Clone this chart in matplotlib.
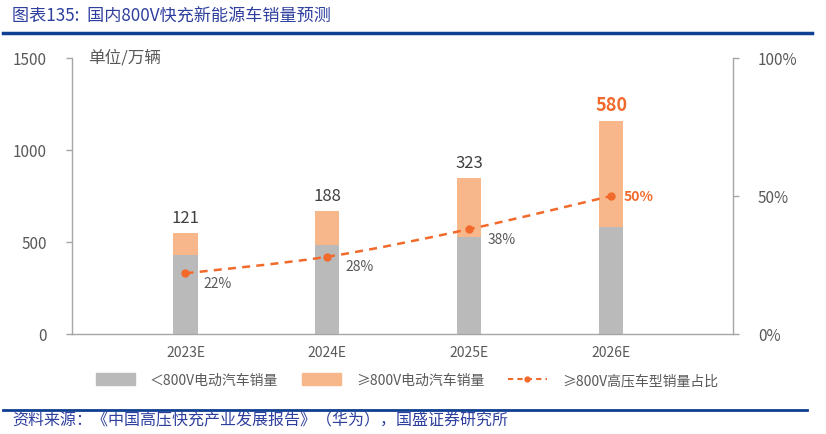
import matplotlib
matplotlib.use("Agg")
import matplotlib.pyplot as plt
from matplotlib.path import Path
from matplotlib.patches import PathPatch, Patch
from matplotlib.lines import Line2D
import numpy as np

plt.rcParams['font.family'] = ['Noto Sans CJK SC', 'DejaVu Sans']

categories = ["2023E", "2024E", "2025E", "2026E"]
below_800v = [429, 483, 527, 580]
above_800v = [121, 188, 323, 580]
share_800v = [22, 28, 38, 50]
share_labels = ["22%", "28%", "38%", "50%"]
left_ticks = [0, 500, 1000, 1500]
right_ticks = [0, 50, 100]

GRAY = "#BBBABA"
ORANGE = "#F8B78A"
LINE = "#F26A2B"
TXT = "#595959"
BLUE = "#0E3F91"

fig = plt.figure(figsize=(8.26, 4.35), dpi=100)
ax = fig.add_axes([72/826, 1-335/435, (733-72)/826, (335-59)/435])
ax2 = ax.twinx()

x = np.arange(len(categories))
w = 0.17
ax.bar(x, below_800v, w, color=GRAY, zorder=2)
ax.bar(x, above_800v, w, bottom=below_800v, color=ORANGE, zorder=2)

for i, (b, a) in enumerate(zip(below_800v, above_800v)):
    last = i == len(categories) - 1
    ax.annotate(str(a), (x[i], b + a), xytext=(0, 5), textcoords="offset points",
                ha="center", va="bottom", fontsize=12 if not last else 13,
                color=LINE if last else "#404040",
                fontweight="bold" if last else "normal")

ax.set_xlim(-0.80, 3.86)
ax.set_ylim(0, 1500)
ax.set_yticks(left_ticks)
ax.set_xticks(x)
ax.set_xticklabels(categories)
ax2.set_ylim(0, 100)
ax2.set_yticks(right_ticks)
ax2.set_yticklabels([f"{v}%" for v in right_ticks])

for a_ in (ax, ax2):
    for s in a_.spines.values():
        s.set_color("#A6A6A6")
        s.set_linewidth(1)
    a_.spines["top"].set_visible(False)
    a_.tick_params(colors="#A6A6A6", labelcolor=TXT, labelsize=11, length=4, width=1)
ax.spines["right"].set_visible(False)
ax2.spines["left"].set_visible(False)
ax2.spines["bottom"].set_visible(False)
ax.tick_params(axis="x", length=0, pad=8, labelsize=10)
ax.tick_params(axis="y", pad=14)
ax2.tick_params(axis="y", pad=14)

# smoothed dashed line (Catmull-Rom -> Bezier) in data coords
px = np.array(x, dtype=float)
py = np.array(share_800v, dtype=float)
verts = [(px[0], py[0])]
codes = [Path.MOVETO]
n = len(px)
for i in range(n - 1):
    p0 = (px[max(i-1, 0)], py[max(i-1, 0)])
    p1 = (px[i], py[i])
    p2 = (px[i+1], py[i+1])
    p3 = (px[min(i+2, n-1)], py[min(i+2, n-1)])
    t = 1/6
    c1 = (p1[0] + (p2[0]-p0[0])*t, p1[1] + (p2[1]-p0[1])*t)
    c2 = (p2[0] - (p3[0]-p1[0])*t, p2[1] - (p3[1]-p1[1])*t)
    verts += [c1, c2, p2]
    codes += [Path.CURVE4]*3
ax2.add_patch(PathPatch(Path(verts, codes), fill=False, edgecolor=LINE, lw=1.8,
                        linestyle=(0, (3.2, 2.5)), zorder=3))
ax2.plot(px, py, "o", color=LINE, ms=5, zorder=4)

for i, lab in enumerate(share_labels):
    last = i == n - 1
    if last:
        ax2.annotate(lab, (px[i], py[i]), xytext=(9, 0), textcoords="offset points",
                     ha="left", va="center", fontsize=10, color=LINE, fontweight="bold")
    else:
        ax2.annotate(lab, (px[i], py[i]), xytext=(13, -7), textcoords="offset points",
                     ha="left", va="center", fontsize=10, color=TXT)

fig.text(88/826, 1-58/435, "单位/万辆", fontsize=12, color=TXT, va="center")

handles = [Patch(color=GRAY), Patch(color=ORANGE),
           Line2D([0], [0], color=LINE, lw=1.5, ls=(0, (2.5, 2)), marker="o", ms=3.5)]
labels = ["＜800V电动汽车销量", "≥800V电动汽车销量", "≥800V高压车型销量占比"]
fig.legend(handles, labels, loc="center", bbox_to_anchor=(407/826, 1-381/435), ncol=3,
           frameon=False, fontsize=10, handlelength=2.8, handleheight=0.9,
           columnspacing=1.7, handletextpad=1.1, labelcolor=TXT)

fig.text(12/826, 1-17/435, "图表135:  国内800V快充新能源车销量预测", fontsize=12.3,
         color="#2E3F9E", va="center", style="italic")
fig.add_artist(Line2D([3/826, 812/826], [1-34/435]*2, color=BLUE, lw=2.5))
fig.add_artist(Line2D([3/826, 807/826], [1-411/435]*2, color=BLUE, lw=2.0))
fig.text(12/826, 1-421/435, "资料来源：《中国高压快充产业发展报告》（华为），国盛证券研究所",
         fontsize=11.5, color="#2E3F9E", va="center", style="italic")

fig.savefig("out.png", dpi=100)
